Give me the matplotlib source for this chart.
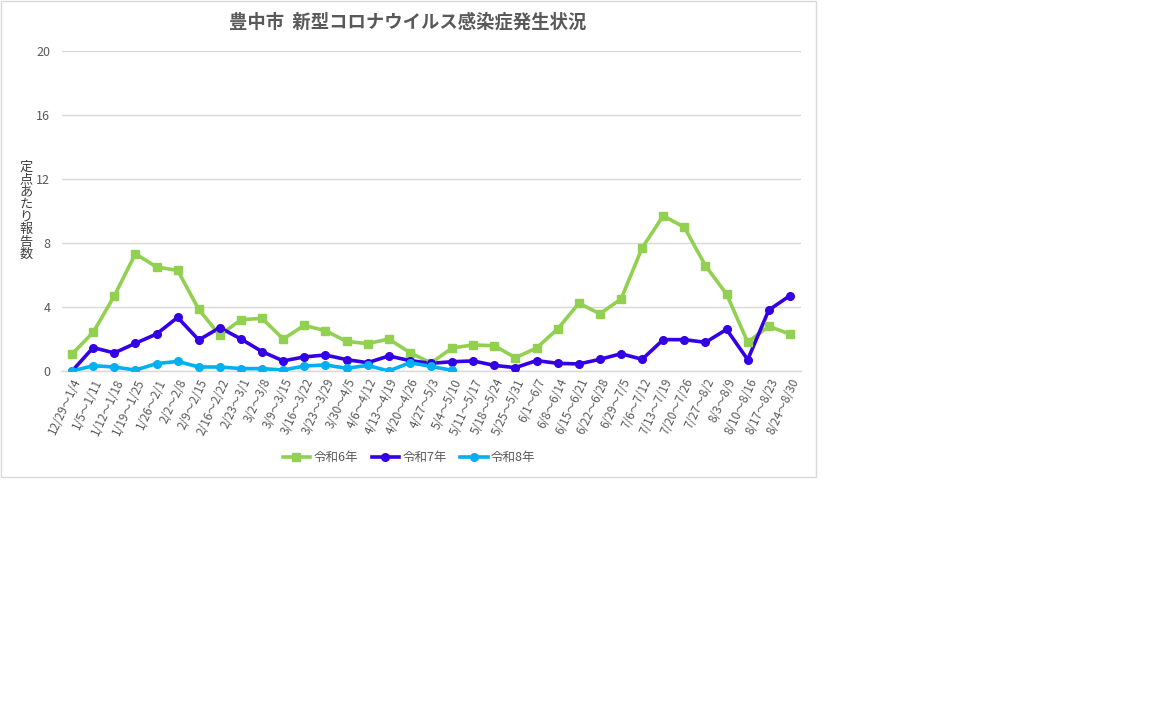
import matplotlib
matplotlib.use("Agg")
import matplotlib.pyplot as plt
from matplotlib.patches import Rectangle

plt.rcParams['font.family'] = ['Noto Sans CJK JP', 'DejaVu Sans']

categories = ["12/29～1/4", "1/5～1/11", "1/12～1/18", "1/19～1/25", "1/26～2/1",
              "2/2～2/8", "2/9～2/15", "2/16～2/22", "2/23～3/1", "3/2～3/8",
              "3/9～3/15", "3/16～3/22", "3/23～3/29", "3/30～4/5", "4/6～4/12",
              "4/13～4/19", "4/20～4/26", "4/27～5/3", "5/4～5/10", "5/11～5/17",
              "5/18～5/24", "5/25～5/31", "6/1～6/7", "6/8～6/14", "6/15～6/21",
              "6/22～6/28", "6/29～7/5", "7/6～7/12", "7/13～7/19", "7/20～7/26",
              "7/27～8/2", "8/3～8/9", "8/10～8/16", "8/17～8/23", "8/24～8/30"]

r6 = [1.06, 2.42, 4.69, 7.33, 6.50, 6.29, 3.85, 2.23, 3.21, 3.29,
      2.00, 2.85, 2.52, 1.85, 1.71, 2.00, 1.15, 0.50, 1.44, 1.63,
      1.58, 0.83, 1.44, 2.63, 4.23, 3.58, 4.50, 7.70, 9.70, 8.98,
      6.58, 4.80, 1.80, 2.80, 2.30]

r7 = [0.00, 1.46, 1.13, 1.73, 2.31, 3.35, 1.94, 2.71, 2.00, 1.21,
      0.63, 0.88, 1.00, 0.71, 0.52, 0.94, 0.65, 0.48, 0.58, 0.63,
      0.35, 0.21, 0.65, 0.48, 0.44, 0.73, 1.08, 0.73, 1.96, 1.96,
      1.79, 2.60, 0.71, 3.81, 4.71]

r8 = [0.00, 0.33, 0.25, 0.06, 0.46, 0.60, 0.25, 0.25, 0.15, 0.15,
      0.06, 0.31, 0.38, 0.17, 0.35, 0.00, 0.52, 0.29, 0.04]

series_names = ["令和6年", "令和7年", "令和8年"]
yticks = [0, 4, 8, 12, 16, 20]
title = "豊中市  新型コロナウイルス感染症発生状況"
ylabel = "定点あたり報告数"

colors = ["#92D050", "#3300E6", "#00B0F0"]
markers = ["s", "o", "o"]
grey = "#595959"

fig = plt.figure(figsize=(11.52, 7.2), dpi=100)
fig.patches.append(Rectangle((0.5 / 1152, 1 - 477 / 720), 815 / 1152, 476 / 720,
                             transform=fig.transFigure, fill=False,
                             edgecolor="#D9D9D9", linewidth=1.0))

ax = fig.add_axes([61.5 / 1152, 1 - 371 / 720, 739 / 1152, 320 / 720])
x_all = list(range(len(categories)))

data = [r6, r7, r8]
for vals, c, m, name in zip(data, colors, markers, series_names):
    xs = x_all[:len(vals)]
    ax.plot(xs, vals, color=c, linewidth=2.6, zorder=3, solid_capstyle="round",
            solid_joinstyle="round")
    ax.plot(xs, vals, linestyle="none", marker=m, markersize=5.5,
            color=c, markeredgecolor=c, zorder=4)
    ax.plot([], [], color=c, linewidth=2.6, marker=m, markersize=5.5, label=name)

ax.set_xlim(-0.5, len(categories) - 0.5)
ax.set_ylim(0, 20)
ax.set_yticks(yticks)
ax.set_yticklabels([str(v) for v in yticks], color=grey, fontsize=9)
ax.set_xticks(x_all)
ax.set_xticklabels(categories, rotation=65, ha="right", va="top",
                   rotation_mode="anchor", color=grey, fontsize=8.5)
ax.tick_params(axis="both", length=0)
ax.tick_params(axis="y", pad=8)
ax.tick_params(axis="x", pad=4)
ax.grid(axis="y", color="#D9D9D9", linewidth=1.0, zorder=0)
ax.set_axisbelow(True)
for s in ["top", "right", "left"]:
    ax.spines[s].set_visible(False)
ax.spines["bottom"].set_color("#D9D9D9")
ax.spines["bottom"].set_linewidth(1.0)

fig.text(408 / 1152, 1 - 22 / 720, title, ha="center", va="center",
         fontsize=13.2, fontweight="bold", color=grey)
fig.text(26 / 1152, 1 - 211 / 720, "\n".join(ylabel), ha="center", va="center",
         fontsize=9.5, color="#404040", linespacing=0.95)

handles, labels = ax.get_legend_handles_labels()
fig.legend(handles, labels, loc="center", bbox_to_anchor=(409 / 1152, 1 - 458 / 720),
           ncol=3, frameon=False, fontsize=9, labelcolor=grey, handlelength=2.2,
           handletextpad=0.25, columnspacing=1.1)

fig.savefig("out.png", dpi=100, facecolor="white")
